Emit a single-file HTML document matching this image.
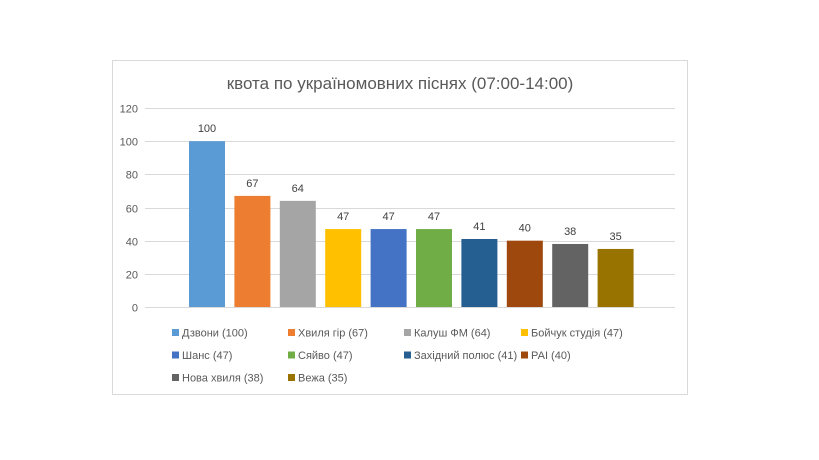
<!DOCTYPE html>
<html><head><meta charset="utf-8"><style>
body{margin:0;background:#fff;width:819px;height:460px;overflow:hidden;font-family:"Liberation Sans",sans-serif}
</style></head><body>
<svg id="chart" width="819" height="460" style="position:absolute;left:0;top:0" font-family="Liberation Sans, sans-serif">
<rect x="112.5" y="60.5" width="575" height="334" fill="#fff" stroke="#d9d9d9"/>
<text x="400" y="89" text-anchor="middle" font-size="17" fill="#595959">квота по україномовних піснях (07:00-14:00)</text>
<g id="grid"></g><g id="bars"></g><g id="legend"></g>
</svg>
<script>
const categories=["Дзвони","Хвиля гір","Калуш ФМ","Бойчук студія","Шанс","Сяйво","Західний полюс","РАІ","Нова хвиля","Вежа"];
const values=[100,67,64,47,47,47,41,40,38,35];
const colors=["#5b9bd5","#ed7d31","#a5a5a5","#ffc000","#4472c4","#70ad47","#255e91","#9e480e","#636363","#997300"];
const ticks=[0,20,40,60,80,100,120];
const NS="http://www.w3.org/2000/svg";
const y0=307,yTop=108,yMax=120;
const yScale=v=>y0-(v/yMax)*(y0-yTop);
const xScale=i=>189+i*45.4;
const bw=36;
function mk(t,a,p){const e=document.createElementNS(NS,t);for(const k in a)e.setAttribute(k,a[k]);p.appendChild(e);return e;}
const grid=document.getElementById('grid');
ticks.forEach(t=>{
 const y=Math.round(yScale(t))+0.5;
 const l=mk('line',{x1:145,x2:675,y1:y,y2:y,stroke:'#d9d9d9'},grid);
 
 
 const tx=mk('text',{x:138,y:y+4,'text-anchor':'end','font-size':11,fill:'#595959'},grid);
 tx.textContent=t;
 
 
});
const bars=document.getElementById('bars');
values.forEach((v,i)=>{
 const x=xScale(i),y=yScale(v);
 const r=mk('rect',{x:x,y:y,width:bw,height:y0-y,fill:colors[i]},bars);
 
 
 const t=mk('text',{x:x+bw/2,y:y-9,'text-anchor':'middle','font-size':11,fill:'#404040'},bars);
 t.textContent=v;
 
 
});
const leg=document.getElementById('legend');
const colX=[172,288,404,521];
values.forEach((v,i)=>{
 const cx=colX[i%4],cy=333+Math.floor(i/4)*22.5;
 const g=mk('g',{},leg);
 
 
 mk('rect',{x:cx,y:cy-4,width:7,height:7,fill:colors[i]},g);
 const t=mk('text',{x:cx+10,y:cy+3.5,'font-size':11,fill:'#595959'},g);
 t.textContent=categories[i]+" ("+v+")";
});
</script>
</body></html>
